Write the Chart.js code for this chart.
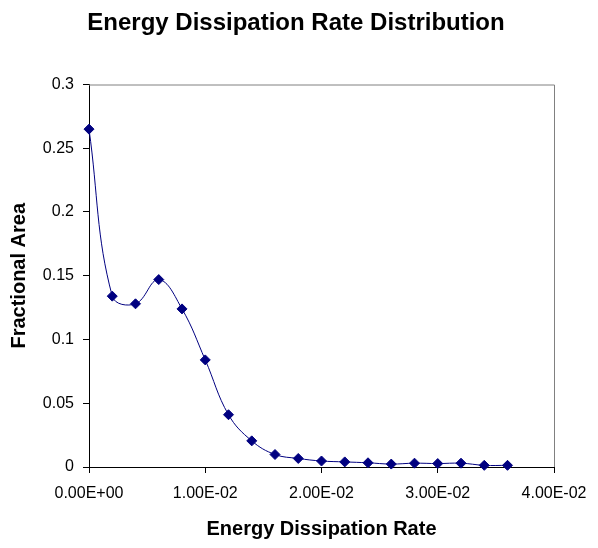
<!DOCTYPE html>
<html>
<head>
<meta charset="utf-8">
<title>Energy Dissipation Rate Distribution</title>
<script src="https://cdn.jsdelivr.net/npm/chart.js@4"></script>
<style>
  html, body { margin: 0; padding: 0; background: #ffffff; }
  canvas { display: block; }
</style>
</head>
<body>
<canvas id="myChart" width="598" height="548"></canvas>
<script>
// energy dissipation rate (x) and fractional area (y)
const rates = [
  0, 0.002, 0.004, 0.006, 0.008, 0.01, 0.012, 0.014, 0.016, 0.018,
  0.02, 0.022, 0.024, 0.026, 0.028, 0.03, 0.032, 0.034, 0.036,
];
const fractionalArea = [
  0.265, 0.134, 0.128, 0.147, 0.124, 0.084, 0.041, 0.0205, 0.0098, 0.0067,
  0.0047, 0.004, 0.0033, 0.0023, 0.003, 0.0027, 0.003, 0.0013, 0.0013,
];
const xTicks = [0, 0.01, 0.02, 0.03, 0.04];
const yTicks = [0, 0.05, 0.1, 0.15, 0.2, 0.25, 0.3];

const FONT = "'Liberation Sans', Arial, sans-serif";
const NAVY = "#000080";

// Excel style scientific labels, e.g. 1.00E-02
function sci(v) {
  if (v === 0) return "0.00E+00";
  let exp = Math.floor(Math.log10(Math.abs(v)));
  let mant = v / Math.pow(10, exp);
  if (Math.abs(mant) >= 9.995) {
    exp += 1;
    mant = v / Math.pow(10, exp);
  }
  const sign = exp < 0 ? "-" : "+";
  const e = String(Math.abs(exp)).padStart(2, "0");
  return mant.toFixed(2) + "E" + sign + e;
}

// grey frame on the top and right of the plot area
const plotFramePlugin = {
  id: "plotFrame",
  afterDatasetsDraw: (chart) => {
    const { ctx, chartArea } = chart;
    ctx.save();
    ctx.strokeStyle = "#808080";
    ctx.lineWidth = 1;
    ctx.beginPath();
    ctx.moveTo(chartArea.left, chartArea.top + 0.5);
    ctx.lineTo(chartArea.right + 0.5, chartArea.top + 0.5);
    ctx.lineTo(chartArea.right + 0.5, chartArea.bottom);
    ctx.stroke();
    ctx.restore();
  },
};

const ctx = document.getElementById("myChart").getContext("2d");

const myChart = new Chart(ctx, {
  type: "scatter",
  data: {
    datasets: [
      {
        label: "Fractional Area",
        data: rates.map((r, i) => ({ x: r, y: fractionalArea[i] })),
        showLine: true,
        tension: 0.4,
        borderColor: NAVY,
        borderWidth: 1,
        backgroundColor: NAVY,
        pointStyle: "rectRot",
        pointRadius: 5,
        pointBorderWidth: 1,
        pointBorderColor: NAVY,
        pointBackgroundColor: NAVY,
        clip: false,
      },
    ],
  },
  options: {
    responsive: false,
    animation: false,
    layout: {
      // left padding keeps the title centred on the whole picture
      padding: { left: 38, right: 44, top: 0, bottom: 0 },
    },
    plugins: {
      legend: { display: false },
      tooltip: { enabled: false },
      title: {
        display: true,
        text: "Energy Dissipation Rate Distribution",
        color: "#000000",
        font: { family: FONT, size: 24, weight: "bold" },
        padding: { top: 9, bottom: 46.7 },
      },
    },
    scales: {
      x: {
        type: "linear",
        min: 0,
        max: 0.04,
        afterBuildTicks: (scale) => {
          scale.ticks = xTicks.map((v) => ({ value: v }));
        },
        afterFit: (scale) => {
          scale.height = 81;
        },
        ticks: {
          color: "#000000",
          font: { family: FONT, size: 16 },
          padding: 11,
          maxRotation: 0,
          callback: (v) => sci(v),
        },
        grid: {
          display: true,
          drawOnChartArea: false,
          drawTicks: true,
          tickLength: 6,
          color: "#000000",
        },
        border: { display: true, color: "#000000", width: 1 },
        title: {
          display: true,
          text: "Energy Dissipation Rate",
          color: "#000000",
          font: { family: FONT, size: 20, weight: "bold" },
          padding: { top: 0, bottom: 7 },
        },
      },
      y: {
        type: "linear",
        min: 0,
        max: 0.3,
        afterBuildTicks: (scale) => {
          scale.ticks = yTicks.map((v) => ({ value: v }));
        },
        afterFit: (scale) => {
          scale.width = 51;
        },
        ticks: {
          color: "#000000",
          font: { family: FONT, size: 16 },
          padding: 9,
          callback: (v) => String(+v.toFixed(2)),
        },
        grid: {
          display: true,
          drawOnChartArea: false,
          drawTicks: true,
          tickLength: 6,
          color: "#000000",
        },
        border: { display: true, color: "#000000", width: 1 },
        title: {
          display: true,
          text: "Fractional Area",
          color: "#000000",
          font: { family: FONT, size: 20, weight: "bold" },
          // pulled left past the layout padding, out to the canvas edge
          padding: { top: -31, bottom: 0 },
        },
      },
    },
  },
  plugins: [plotFramePlugin],
});
</script>
</body>
</html>
